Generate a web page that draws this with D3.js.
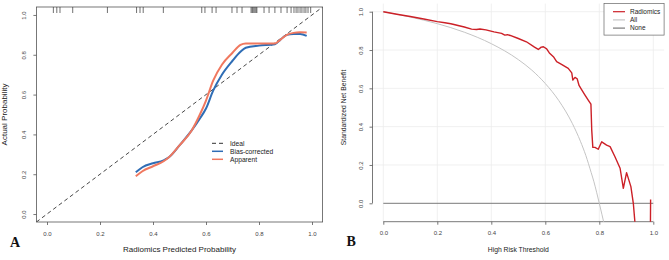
<!DOCTYPE html>
<html><head><meta charset="utf-8">
<script src="https://cdn.jsdelivr.net/npm/d3@7"></script>
<style>
html,body{margin:0;padding:0;background:#fff;}
svg{display:block;font-family:"Liberation Sans",Arial,sans-serif;}
</style></head>
<body><svg id="c" width="669" height="260"></svg>
<script>
// ---------- Panel A data (calibration) ----------
const calTicks = [0, 0.2, 0.4, 0.6, 0.8, 1.0];
const apparentX = [0.335,0.36,0.40,0.44,0.46,0.50,0.546,0.577,0.60,0.627,0.66,0.70,0.73,0.75,0.80,0.86,0.88,0.905,0.93,0.955,0.98];
const apparentY = [0.19,0.215,0.24,0.265,0.285,0.345,0.42,0.50,0.57,0.67,0.75,0.81,0.85,0.857,0.857,0.857,0.875,0.90,0.91,0.913,0.912];
const biasX = [0.335,0.36,0.40,0.44,0.46,0.50,0.546,0.577,0.60,0.627,0.66,0.70,0.73,0.75,0.80,0.86,0.88,0.905,0.93,0.955,0.98];
const biasY = [0.21,0.235,0.255,0.27,0.285,0.345,0.42,0.48,0.53,0.62,0.70,0.77,0.815,0.835,0.846,0.853,0.875,0.90,0.905,0.905,0.895];
const rugValues = [0.024,0.037,0.049,0.097,0.228,0.338,0.351,0.363,0.439,0.584,0.596,0.623,0.638,0.698,0.717,0.736,0.77,0.774,0.777,0.781,0.785,0.789,0.792,0.819,0.838,0.86,0.883,0.906,0.921,0.932,0.94,0.947,0.955,0.962,0.97,0.977,0.985,0.995];
const calLegend = ["Ideal","Bias-corrected","Apparent"];

// ---------- Panel B data (decision curve) ----------
const dcaTicks = [0, 0.2, 0.4, 0.6, 0.8, 1.0];
const radX = [0,0.05,0.1,0.15,0.2,0.228,0.25,0.3,0.327,0.345,0.358,0.38,0.41,0.438,0.45,0.46,0.47,0.5,0.53,0.56,0.574,0.585,0.593,0.605,0.615,0.63,0.642,0.66,0.685,0.698,0.702,0.71,0.718,0.725,0.735,0.747,0.759,0.769,0.772,0.776,0.784,0.796,0.809,0.827,0.84,0.858,0.877,0.889,0.901,0.917,0.926,0.935,0.94,0.985,0.99];
const radY = [1.0,0.987,0.975,0.962,0.948,0.942,0.937,0.92,0.909,0.907,0.91,0.905,0.895,0.887,0.878,0.88,0.876,0.86,0.843,0.815,0.803,0.815,0.817,0.806,0.785,0.765,0.739,0.725,0.704,0.681,0.643,0.657,0.65,0.615,0.592,0.565,0.539,0.517,0.382,0.292,0.292,0.282,0.321,0.304,0.296,0.243,0.183,0.078,0.16,0.087,0.0,-0.15,-1,-1,0.02];
const allX = [0,0.1,0.2,0.3,0.4,0.5,0.55,0.6,0.65,0.7,0.73,0.75,0.77,0.78,0.79,0.8,0.81,0.82];
const allY = [1.0,0.972,0.9375,0.893,0.833,0.75,0.695,0.625,0.536,0.417,0.324,0.25,0.16,0.113,0.058,0.0,-0.06,-0.12];
const noneX = [0, 1];
const noneY = [0, 0];
const dcaLegend = ["Radiomics","All","None"];

const svg = d3.select("#c");

// ================= Panel A =================
const ax = d3.scaleLinear().domain([-0.04,1.04]).range([36.4,322.6]);
const ay = d3.scaleLinear().domain([-0.04,1.04]).range([222,7]);
const A = svg.append("g");
A.append("clipPath").attr("id","clipA").append("rect")
  .attr("x",ax(-0.04)).attr("y",ay(1.04)).attr("width",ax(1.04)-ax(-0.04)).attr("height",ay(-0.04)-ay(1.04));

// box
A.append("rect").attr("x",ax(-0.04)).attr("y",ay(1.04)).attr("width",ax(1.04)-ax(-0.04)).attr("height",ay(-0.04)-ay(1.04))
  .attr("fill","none").attr("stroke","#555").attr("stroke-width",0.8);

// axes
const axB = A.append("g").attr("transform",`translate(0,${ay(-0.04)})`)
  .call(d3.axisBottom(ax).tickValues(calTicks).tickFormat(d3.format(".1f")).tickSize(3).tickPadding(7));
axB.select(".domain").remove();
const axL = A.append("g").attr("transform",`translate(${ax(-0.04)},0)`)
  .call(d3.axisLeft(ay).tickValues(calTicks).tickFormat(d3.format(".1f")).tickSize(3).tickPadding(0));
axL.select(".domain").remove();
[axB, axL].forEach(g=>{
  g.selectAll("line").attr("stroke","#555").attr("stroke-width",0.8);
  g.selectAll("text").attr("fill","#444").style("font-size","6px").style("font-family","Liberation Sans, Arial, sans-serif");
});
axL.selectAll("text").attr("x",null).attr("dy",null).attr("text-anchor","middle")
  .attr("transform","translate(-10.4,0) rotate(-90)");

// rug
A.append("g").selectAll("line").data(rugValues).join("line")
  .attr("x1",d=>ax(d)).attr("x2",d=>ax(d)).attr("y1",ay(1.04)).attr("y2",ay(1.04)+6)
  .attr("stroke","#333").attr("stroke-width",0.7);

// ideal line
A.append("line").attr("clip-path","url(#clipA)")
  .attr("x1",ax(-0.04)).attr("y1",ay(-0.04)).attr("x2",ax(1.04)).attr("y2",ay(1.04))
  .attr("stroke","#333").attr("stroke-width",0.9).attr("stroke-dasharray","4,3");

const lineA = d3.line().x(d=>ax(d[0])).y(d=>ay(d[1])).curve(d3.curveMonotoneX);
A.append("path").datum(biasX.map((x,i)=>[x,biasY[i]])).attr("d",lineA)
  .attr("fill","none").attr("stroke","#2f6db5").attr("stroke-width",2);
A.append("path").datum(apparentX.map((x,i)=>[x,apparentY[i]])).attr("d",lineA)
  .attr("fill","none").attr("stroke","#f0785f").attr("stroke-width",2);

// legend A
const legA = A.append("g");
const legAStyles = [{c:"#333",d:"4,3",w:1},{c:"#2f6db5",d:null,w:1.5},{c:"#f0785f",d:null,w:1.5}];
calLegend.forEach((t,i)=>{
  const y = 143.3 + i*8;
  legA.append("line").attr("x1",212).attr("x2",223).attr("y1",y).attr("y2",y)
    .attr("stroke",legAStyles[i].c).attr("stroke-width",legAStyles[i].w).attr("stroke-dasharray",legAStyles[i].d);
  legA.append("text").attr("x",230).attr("y",y+2.3).text(t).style("font-size","6.7px").attr("fill","#222");
});

// titles A
A.append("text").attr("x",ax(0.5)).attr("y",251.7).attr("text-anchor","middle").style("font-size","8px").attr("fill","#222").text("Radiomics Predicted Probability");
A.append("text").attr("transform",`translate(7,${ay(0.5)}) rotate(-90)`).attr("text-anchor","middle").style("font-size","8px").attr("fill","#222").text("Actual Probability");
A.append("text").attr("x",10).attr("y",247).style("font-family","Liberation Serif, Times New Roman, serif").style("font-weight","bold").style("font-size","14px").attr("fill","#111").text("A");

// ================= Panel B =================
const bx = d3.scaleLinear().domain([-0.04,1.04]).range([372.5,664.1]);
const by = d3.scaleLinear().domain([0,1]).range([203.3,11.7]);
const yBottom = 221.7, yTop = 3.6;
const B = svg.append("g");
B.append("clipPath").attr("id","clipB").append("rect")
  .attr("x",bx(-0.04)).attr("y",yTop).attr("width",bx(1.04)-bx(-0.04)).attr("height",yBottom-yTop);

// grid
B.append("g").selectAll("line").data(dcaTicks).join("line")
  .attr("x1",d=>bx(d)).attr("x2",d=>bx(d)).attr("y1",yTop).attr("y2",yBottom)
  .attr("stroke","#ececec").attr("stroke-width",0.8);
B.append("g").selectAll("line").data(dcaTicks.filter(d=>d>0)).join("line")
  .attr("x1",bx(-0.04)).attr("x2",bx(1.04)).attr("y1",d=>by(d)).attr("y2",d=>by(d))
  .attr("stroke","#ececec").attr("stroke-width",0.8);

// axes B
const bxB = B.append("g").attr("transform",`translate(0,${yBottom})`)
  .call(d3.axisBottom(bx).tickValues(dcaTicks).tickFormat(d3.format(".1f")).tickSize(3).tickPadding(6));
const bxL = B.append("g").attr("transform",`translate(${bx(-0.04)},0)`)
  .call(d3.axisLeft(by).tickValues(dcaTicks).tickFormat(d3.format(".1f")).tickSize(3).tickPadding(0));
[bxB, bxL].forEach(g=>{
  g.selectAll("line").attr("stroke","#555").attr("stroke-width",0.8);
  g.selectAll("text").attr("fill","#444").style("font-size","6px").style("font-family","Liberation Sans, Arial, sans-serif");
});
bxB.select(".domain").remove();
bxL.select(".domain").remove();
B.append("line").attr("x1",bx(0)).attr("x2",bx(1)).attr("y1",yBottom).attr("y2",yBottom).attr("stroke","#555").attr("stroke-width",0.8);
B.append("line").attr("x1",bx(-0.04)).attr("x2",bx(-0.04)).attr("y1",by(0)).attr("y2",by(1)).attr("stroke","#555").attr("stroke-width",0.8);
bxL.selectAll("text").attr("x",null).attr("dy",null).attr("text-anchor","middle")
  .attr("transform","translate(-9.2,0) rotate(-90)");

const lineB = d3.line().x(d=>bx(d[0])).y(d=>by(d[1]));
const lineBs = d3.line().x(d=>bx(d[0])).y(d=>by(d[1])).curve(d3.curveMonotoneX);
const plotB = B.append("g").attr("clip-path","url(#clipB)");
plotB.append("path").datum(noneX.map((x,i)=>[x,noneY[i]])).attr("d",lineB)
  .attr("fill","none").attr("stroke","#7a7a7a").attr("stroke-width",1);
plotB.append("path").datum(allX.map((x,i)=>[x,allY[i]])).attr("d",lineBs)
  .attr("fill","none").attr("stroke","#c4c4c4").attr("stroke-width",1);
plotB.append("path").datum(radX.map((x,i)=>[x,radY[i]])).attr("d",lineB)
  .attr("fill","none").attr("stroke","#cc2027").attr("stroke-width",1.4).attr("stroke-linejoin","round");

// legend B
const legB = B.append("g");
legB.append("rect").attr("x",604).attr("y",yTop).attr("width",bx(1.04)-604).attr("height",31.5)
  .attr("fill","#fff").attr("stroke","#666").attr("stroke-width",0.7);
const legBColors = ["#cc2027","#c4c4c4","#7a7a7a"];
dcaLegend.forEach((t,i)=>{
  const y = 11.7 + i*8.2;
  legB.append("line").attr("x1",613).attr("x2",625).attr("y1",y).attr("y2",y)
    .attr("stroke",legBColors[i]).attr("stroke-width",1.2);
  legB.append("text").attr("x",630).attr("y",y+2.2).text(t).style("font-size","6.5px").attr("fill","#222");
});

// titles B
B.append("text").attr("x",bx(0.5)).attr("y",251.6).attr("text-anchor","middle").style("font-size","6.8px").attr("fill","#222").text("High Risk Threshold");
B.append("text").attr("transform",`translate(346,${by(0.5)}) rotate(-90)`).attr("text-anchor","middle").style("font-size","6.8px").attr("fill","#222").text("Standardized Net Benefit");
B.append("text").attr("x",346.5).attr("y",246).style("font-family","Liberation Serif, Times New Roman, serif").style("font-weight","bold").style("font-size","14px").attr("fill","#111").text("B");
</script></body></html>
